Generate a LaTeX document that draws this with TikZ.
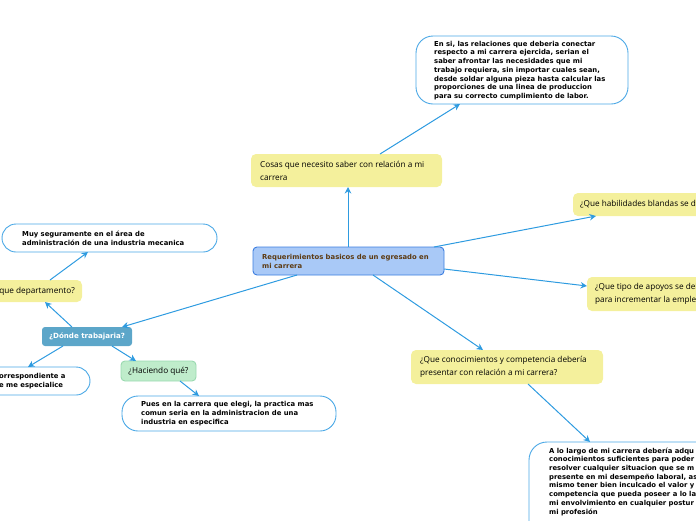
\documentclass[tikz,border=0pt]{standalone}
\usepackage{fontspec}
\usetikzlibrary{arrows.meta,calc}
\newfontfamily\dvs{DejaVu Sans}
\newfontfamily\osans{Open Sans}
\definecolor{lnk}{HTML}{2E9BE0}
\definecolor{wbord}{HTML}{4AA8E6}
\definecolor{yel}{HTML}{F4F09C}
\definecolor{cfill}{HTML}{A9C9F7}
\definecolor{cbord}{HTML}{3B7DE0}
\definecolor{ctext}{HTML}{5C3A12}
\definecolor{dfill}{HTML}{5CA6C9}
\definecolor{gfill}{HTML}{BFECCB}
\definecolor{gbord}{HTML}{9AD9B0}
\tikzset{
  boxbase/.style={anchor=north west, inner sep=0pt, outer sep=0pt},
  notebox/.style={boxbase, draw=wbord, line width=0.9pt, fill=white, rounded corners=14pt},
  topicbox/.style={boxbase, fill=yel, rounded corners=5pt},
  notetext/.style={inner sep=0pt, align=left, anchor=west, font=\dvs\bfseries\fontsize{6.85}{8.7}\selectfont},
  topictext/.style={inner sep=0pt, align=left, anchor=west, font=\osans\fontsize{8.2}{12.8}\selectfont},
  conn/.style={draw=lnk, line width=1pt, -{Stealth[length=6.5pt,width=6.5pt]}}
}
\begin{document}
\begin{tikzpicture}[x=1pt,y=-1pt]
\useasboundingbox (0,0) rectangle (696,520);
\clip (0,0) rectangle (696,520);

% top-right note
\node[notebox, rounded corners=17pt, minimum width=212pt, minimum height=68pt] (tr) at (416,36) {};
\node[notetext] (trt) at (434,70.5) {En si, las relaciones que deberia conectar\\respecto a mi carrera ejercida, serian el\\saber afrontar las necesidades que mi\\trabajo requiera, sin importar cuales sean,\\desde soldar alguna pieza hasta calcular las\\proporciones de una linea de produccion\\para su correcto cumplimiento de labor.};

% Cosas
\node[topicbox, minimum width=191pt, minimum height=33pt] (cosas) at (251,154) {};
\node[topictext] (cosast) at (260,170.5) {Cosas que necesito saber con relación a mi\\carrera};

% central
\node[boxbase, draw=cbord, line width=0.9pt, fill=cfill, rounded corners=4pt, minimum width=191pt, minimum height=28pt] (central) at (253,247) {};
\node[notetext, text=ctext, font=\dvs\bfseries\fontsize{6.85}{9}\selectfont] (centralt) at (262,261.5) {Requerimientos basicos de un egresado en\\mi carrera};

% habilidades
\node[topicbox, minimum width=150pt, minimum height=23pt] (habil) at (573,193) {};
\node[topictext] (habilt) at (580,204.5) {¿Que habilidades blandas se de};

% apoyos
\node[topicbox, minimum width=150pt, minimum height=34pt] (apoyos) at (587,277) {};
\node[topictext] (apoyost) at (595,294) {¿Que tipo de apoyos se deb\\para incrementar la emple};

% conocimientos
\node[topicbox, minimum width=192pt, minimum height=34pt] (conoc) at (411,350) {};
\node[topictext] (conoct) at (420,367) {¿Que conocimientos y competencia debería\\presentar con relación a mi carrera?};

% bottom-right note
\node[notebox, rounded corners=18pt, minimum width=200pt, minimum height=100pt] (br) at (529,442) {};
\node[notetext, anchor=north west] (brt) at (549,447.5) {A lo largo de mi carrera debería adqu\\conocimientos suficientes para poder\\resolver cualquier situacion que se m\\presente en mi desempeño laboral, as\\mismo tener bien inculcado el valor y\\competencia que pueda poseer a lo la\\mi envolvimiento en cualquier postur\\mi profesión};

% Muy seguramente
\node[notebox, minimum width=215pt, minimum height=28pt] (muy) at (2,224) {};
\node[notetext] (muyt) at (22,238) {Muy seguramente en el área de\\administración de una industria mecanica};

% departamento
\node[topicbox, minimum width=112pt, minimum height=22pt] (depto) at (-30,280) {};
\node[topictext, anchor=east] (deptot) at (75,291) {que departamento?};

% Donde trabajaria
\node[boxbase, fill=dfill, rounded corners=3pt, minimum width=90pt, minimum height=19pt] (donde) at (42,327) {};
\node[inner sep=0pt, text=white, font=\dvs\bfseries\fontsize{7.1}{8}\selectfont] (dondet) at (87,336.5) {¿Dónde trabajaria?};

% bottom-left note
\node[notebox, minimum width=130pt, minimum height=28pt] (bl) at (-40,367) {};
\node[notetext] (blt) at (-1,381) {orrespondiente a\\e me especialice};

% Haciendo que
\node[boxbase, draw=gbord, line width=0.9pt, fill=gfill, rounded corners=4pt, minimum width=75pt, minimum height=20pt] (hac) at (121,361) {};
\node[inner sep=0pt, font=\osans\fontsize{8.2}{10}\selectfont] (hact) at (158.5,371) {¿Haciendo qué?};

% Pues
\node[notebox, rounded corners=16pt, minimum width=214pt, minimum height=35pt] (pues) at (122,396) {};
\node[notetext] (puest) at (141,413.5) {Pues en la carrera que elegi, la practica mas\\comun seria en la administracion de una\\industria en especifica};

% connectors
\draw[conn] ([xshift=95pt]central.north west) -- ([xshift=97pt]cosas.south west);
\draw[conn] ([xshift=129pt]cosas.north west) -- ([xshift=44pt]tr.south west);
\draw[conn] ([xshift=181pt]central.north west) -- ([xshift=23pt]habil.south west);
\draw[conn] ([yshift=-8pt]central.east) -- ([yshift=8pt]apoyos.west);
\draw[conn] ([xshift=120pt]central.south west) -- ([xshift=72pt]conoc.north west);
\draw[conn] ([xshift=117pt]conoc.south west) -- ([xshift=61pt]br.north west);
\draw[conn] ([xshift=44pt]central.south west) -- ([xshift=80pt]donde.north west);
\draw[conn] ([xshift=30pt]donde.north west) -- ([xshift=75pt]depto.south west);
\draw[conn] ([xshift=80pt]depto.north west) -- ([xshift=86pt]muy.south west);
\draw[conn] ([xshift=21pt]donde.south west) -- ([xshift=68pt]bl.north west);
\draw[conn] ([xshift=70pt]donde.south west) -- ([xshift=15pt]hac.north west);
\draw[conn] ([xshift=59pt]hac.south west) -- ([xshift=77pt]pues.north west);
\end{tikzpicture}
\end{document}
